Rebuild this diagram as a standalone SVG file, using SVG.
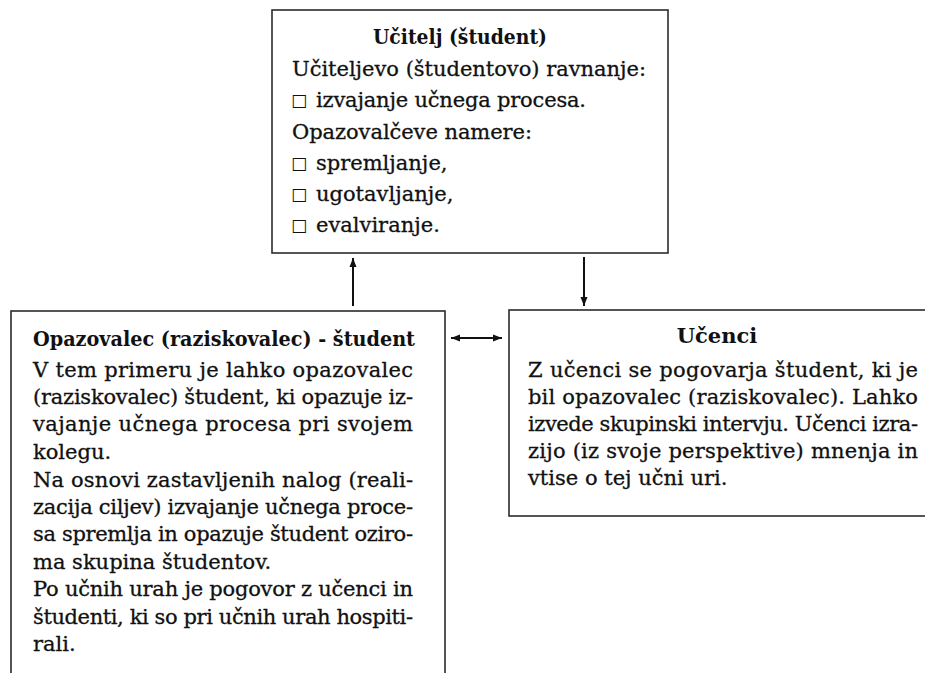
<svg xmlns="http://www.w3.org/2000/svg" width="925" height="673" viewBox="0 0 925 673">
<style>
.box{fill:#fff;stroke:#2b2b2b;stroke-width:1.6}
.t{font-family:"DejaVu Serif","Liberation Serif",serif;font-size:21px;fill:#111;stroke:#111;stroke-width:0.3}
.b{font-family:"DejaVu Serif","Liberation Serif",serif;font-size:21px;font-weight:bold;fill:#111}
.sq{font-family:"DejaVu Sans",sans-serif;font-size:17px;fill:#111}
.c{stroke:#111;stroke-width:2;fill:none}
</style>
<defs>
<marker id="ah" markerUnits="userSpaceOnUse" markerWidth="10" markerHeight="8" refX="9" refY="4" orient="auto-start-reverse">
<path d="M0,0.5 L9,4 L0,7.5 z" fill="#111"/>
</marker>
</defs>
<rect width="925" height="673" fill="#fff"/>
<g id="node-ucitelj">
<rect class="box" x="272" y="10" width="396" height="243"/>
<text class="b" x="460" y="44" text-anchor="middle" textLength="174" lengthAdjust="spacingAndGlyphs">Učitelj (študent)</text>
<text class="t" x="292" y="76" textLength="354">Učiteljevo (študentovo) ravnanje:</text>
<text class="sq" x="291" y="106">□</text>
<text class="t" x="316" y="107" textLength="270">izvajanje učnega procesa.</text>
<text class="t" x="292" y="139" textLength="240">Opazovalčeve namere:</text>
<text class="sq" x="291" y="169">□</text>
<text class="t" x="316" y="170">spremljanje,</text>
<text class="sq" x="291" y="200">□</text>
<text class="t" x="316" y="201">ugotavljanje,</text>
<text class="sq" x="291" y="231">□</text>
<text class="t" x="316" y="232">evalviranje.</text>
</g>
<g id="node-opazovalec">
<rect class="box" x="11" y="311" width="434" height="380"/>
<text class="b" x="33" y="346" textLength="382" lengthAdjust="spacingAndGlyphs">Opazovalec (raziskovalec) - študent</text>
<text class="t" x="33" y="377" textLength="380">V tem primeru je lahko opazovalec</text>
<text class="t" x="33" y="404" textLength="380">(raziskovalec) študent, ki opazuje iz-</text>
<text class="t" x="33" y="431" textLength="380">vajanje učnega procesa pri svojem</text>
<text class="t" x="33" y="459">kolegu.</text>
<text class="t" x="33" y="487" textLength="380">Na osnovi zastavljenih nalog (reali-</text>
<text class="t" x="33" y="514" textLength="380">zacija ciljev) izvajanje učnega proce-</text>
<text class="t" x="33" y="541" textLength="380">sa spremlja in opazuje študent oziro-</text>
<text class="t" x="33" y="569">ma skupina študentov.</text>
<text class="t" x="33" y="596" textLength="380">Po učnih urah je pogovor z učenci in</text>
<text class="t" x="33" y="624" textLength="380">študenti, ki so pri učnih urah hospiti-</text>
<text class="t" x="33" y="651">rali.</text>
</g>
<g id="node-ucenci">
<rect class="box" x="509" y="310" width="430" height="206"/>
<text class="b" x="717" y="343" text-anchor="middle">Učenci</text>
<text class="t" x="528" y="377" textLength="390">Z učenci se pogovarja študent, ki je</text>
<text class="t" x="528" y="404" textLength="390">bil opazovalec (raziskovalec). Lahko</text>
<text class="t" x="528" y="431" textLength="390">izvede skupinski intervju. Učenci izra-</text>
<text class="t" x="528" y="458" textLength="390">zijo (iz svoje perspektive) mnenja in</text>
<text class="t" x="528" y="485">vtise o tej učni uri.</text>
</g>
<g id="connectors">
<line class="c" x1="353" y1="306" x2="353" y2="258" marker-end="url(#ah)"/>
<line class="c" x1="584" y1="257" x2="584" y2="306" marker-end="url(#ah)"/>
<line class="c" x1="451" y1="338" x2="502" y2="338" marker-start="url(#ah)" marker-end="url(#ah)"/>
</g>
</svg>
